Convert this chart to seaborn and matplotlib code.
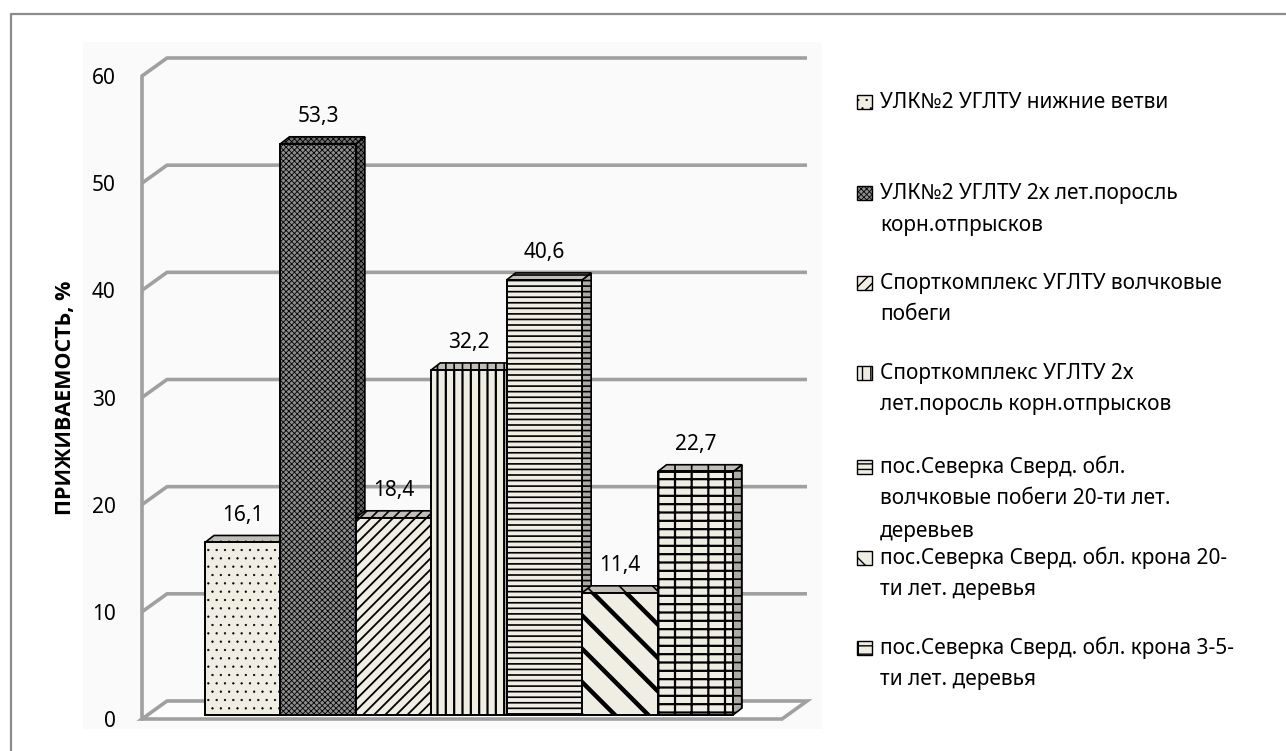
import numpy as np
import pandas as pd
import seaborn as sns
import matplotlib
matplotlib.use("Agg")
import matplotlib.pyplot as plt
from matplotlib.patches import Polygon, Rectangle
from matplotlib.lines import Line2D
import matplotlib.transforms as mtransforms

# ---------------- data ----------------
categories = [
    "УЛК№2 УГЛТУ нижние ветви",
    "УЛК№2 УГЛТУ 2х лет.поросль\nкорн.отпрысков",
    "Спорткомплекс УГЛТУ волчковые\nпобеги",
    "Спорткомплекс УГЛТУ 2х\nлет.поросль корн.отпрысков",
    "пос.Северка Сверд. обл.\nволчковые побеги 20-ти лет.\nдеревьев",
    "пос.Северка Сверд. обл. крона 20-\nти лет. деревья",
    "пос.Северка Сверд. обл. крона 3-5-\nти лет. деревья",
]
values = [16.1, 53.3, 18.4, 32.2, 40.6, 11.4, 22.7]
yticks = [0, 10, 20, 30, 40, 50, 60]
ylabel = "ПРИЖИВАЕМОСТЬ, %"

# ---------------- styles ----------------
hatches = ["..", "xxxxxx", "///", "||", "---", "\\", "|--"]
hatch_lw = [0.4, 0.6, 1.3, 1.6, 1.2, 3.2, 1.6]
face = ["#F0EEE3", "#8E8E8E", "#F0EEE3", "#F0EEE3", "#F0EEE3", "#F0EEE3", "#F0EEE3"]

sns.set_theme(style="white")
plt.rcParams["font.family"] = ["Noto Sans", "DejaVu Sans"]
plt.rcParams["hatch.linewidth"] = 1.2

W, H = 1286, 751
fig = plt.figure(figsize=(W / 100, H / 100), dpi=100)
fig.patch.set_facecolor("white")

# plot-area light background and outer frame
fig.add_artist(Rectangle((83 / W, 1 - 729 / H), (822 - 83) / W, (729 - 42) / H,
                         transform=fig.transFigure, facecolor="#FAFAFA",
                         edgecolor="none", zorder=0))
fig.add_artist(Line2D([11 / W, 11 / W, 1.01], [-0.01, 1 - 14 / H, 1 - 14 / H],
                      transform=fig.transFigure, color="#8C8C8C", lw=1.6, zorder=1))

# axes = front plane of the 3-D box
ax_l, ax_r, ax_t, ax_b = 142, 782, 76, 719
ax = fig.add_axes([ax_l / W, 1 - ax_b / H, (ax_r - ax_l) / W, (ax_b - ax_t) / H])
ax.patch.set_alpha(0)

df = pd.DataFrame({"cat": categories, "val": values})
sns.barplot(data=df, x="cat", y="val", hue="cat", palette=face, width=1.0,
            saturation=1, edgecolor="black", linewidth=1.4, legend=False, ax=ax)
bars = [p for p in ax.patches if isinstance(p, Rectangle)]

xmin, xmax = -1.269, 7.216
ax.set_xlim(xmin, xmax)
ax.set_ylim(yticks[0], yticks[-1])
for s in ax.spines.values():
    s.set_visible(False)
ax.set_xticks([])
ax.set_xlabel("")
ax.set_yticks(yticks)
ax.set_yticklabels([str(t) for t in yticks])
ax.tick_params(axis="y", length=0, pad=19, labelsize=15, colors="black")
ax.set_ylabel(ylabel)
yl = ax.yaxis.label
yl.set_family(["Open Sans", "DejaVu Sans"])
yl.set_fontweight("bold")
yl.set_fontsize(15.5)
yl.set_va("center")
yl.set_color("black")
ax.yaxis.set_label_coords((65 - ax_l) / (ax_r - ax_l), 0.5)

fig.canvas.draw()
bb = ax.get_window_extent()
pxu = bb.width / (xmax - xmin)
pyu = bb.height / (yticks[-1] - yticks[0])

def off(px, py):
    return px / pxu, py / pyu

# back wall / floor geometry (pixel offsets converted to data units)
wdx, wdy = off(25, 18)
grid_c = "#A0A0A0"
for v in yticks[1:]:
    ax.plot([xmin, xmin + wdx, xmax + wdx], [v, v + wdy, v + wdy],
            color=grid_c, lw=2.6, clip_on=False, zorder=1, solid_capstyle="butt")
ax.plot([xmin, xmin], [yticks[0], yticks[-1]], color=grid_c, lw=2.6,
        clip_on=False, zorder=1)
ax.add_patch(Polygon([[xmin, 0], [xmax, 0], [xmax + wdx, wdy], [xmin + wdx, wdy]],
                     closed=True, facecolor="#FDFDFD", edgecolor=grid_c, lw=2.6,
                     clip_on=False, zorder=1.2))

# bars: front faces from seaborn, plus 3-D top and side faces
bdx, bdy = off(5, 4)        # bar front plane offset
ddx, ddy = off(9, 7)        # bar depth
shift = mtransforms.offset_copy(ax.transData, fig=fig, x=5, y=4, units="dots")
lab_t = mtransforms.offset_copy(ax.transData, fig=fig, x=5, y=31, units="dots")

def darker(c, f):
    r, g, b = matplotlib.colors.to_rgb(c)
    return (r * f, g * f, b * f)

for i, (p, v) in enumerate(zip(bars, values)):
    x0 = p.get_x()
    x1 = x0 + p.get_width()
    h = p.get_height()
    z = 2 + i * 0.1
    p.set_transform(shift)
    p.set_hatch(hatches[i])
    p.set_zorder(z + 0.05)
    p.set_clip_on(False)
    try:
        p.set_hatch_linewidth(hatch_lw[i])
    except AttributeError:
        pass
    fx0, fx1, fy = x0 + bdx, x1 + bdx, h + bdy
    side = Polygon([[fx1, bdy], [fx1, fy], [fx1 + ddx, fy + ddy], [fx1 + ddx, bdy + ddy]],
                   closed=True, facecolor=darker(face[i], 0.72), edgecolor="black",
                   lw=1.2, hatch=hatches[i], clip_on=False, zorder=z)
    top = Polygon([[fx0, fy], [fx1, fy], [fx1 + ddx, fy + ddy], [fx0 + ddx, fy + ddy]],
                  closed=True, facecolor=darker(face[i], 0.8), edgecolor="black",
                  lw=1.2, hatch=hatches[i], clip_on=False, zorder=z + 0.01)
    for poly in (side, top):
        try:
            poly.set_hatch_linewidth(min(hatch_lw[i], 1.2))
        except AttributeError:
            pass
        ax.add_patch(poly)
    ax.text(x0 + p.get_width() / 2, h, f"{v:.1f}".replace(".", ","), transform=lab_t,
            ha="center", va="center", fontsize=15, color="black", zorder=5)

# legend (marker aligned with first line of each entry)
leg_y = [102, 193, 283, 373, 467, 558, 648]
line_h = 32
for i, (lab, y0) in enumerate(zip(categories, leg_y)):
    r = Rectangle((857 / W, 1 - (y0 + 7) / H), 15 / W, 14 / H, transform=fig.transFigure,
                  facecolor=face[i], edgecolor="black", lw=1.0, hatch=hatches[i])
    try:
        r.set_hatch_linewidth(min(hatch_lw[i], 1.0))
    except AttributeError:
        pass
    fig.add_artist(r)
    for j, line in enumerate(lab.split("\n")):
        fig.text(880 / W, 1 - (y0 + j * line_h) / H, line, ha="left", va="center",
                 fontsize=15, color="black")

fig.savefig("out.png", dpi=100, facecolor="white")
